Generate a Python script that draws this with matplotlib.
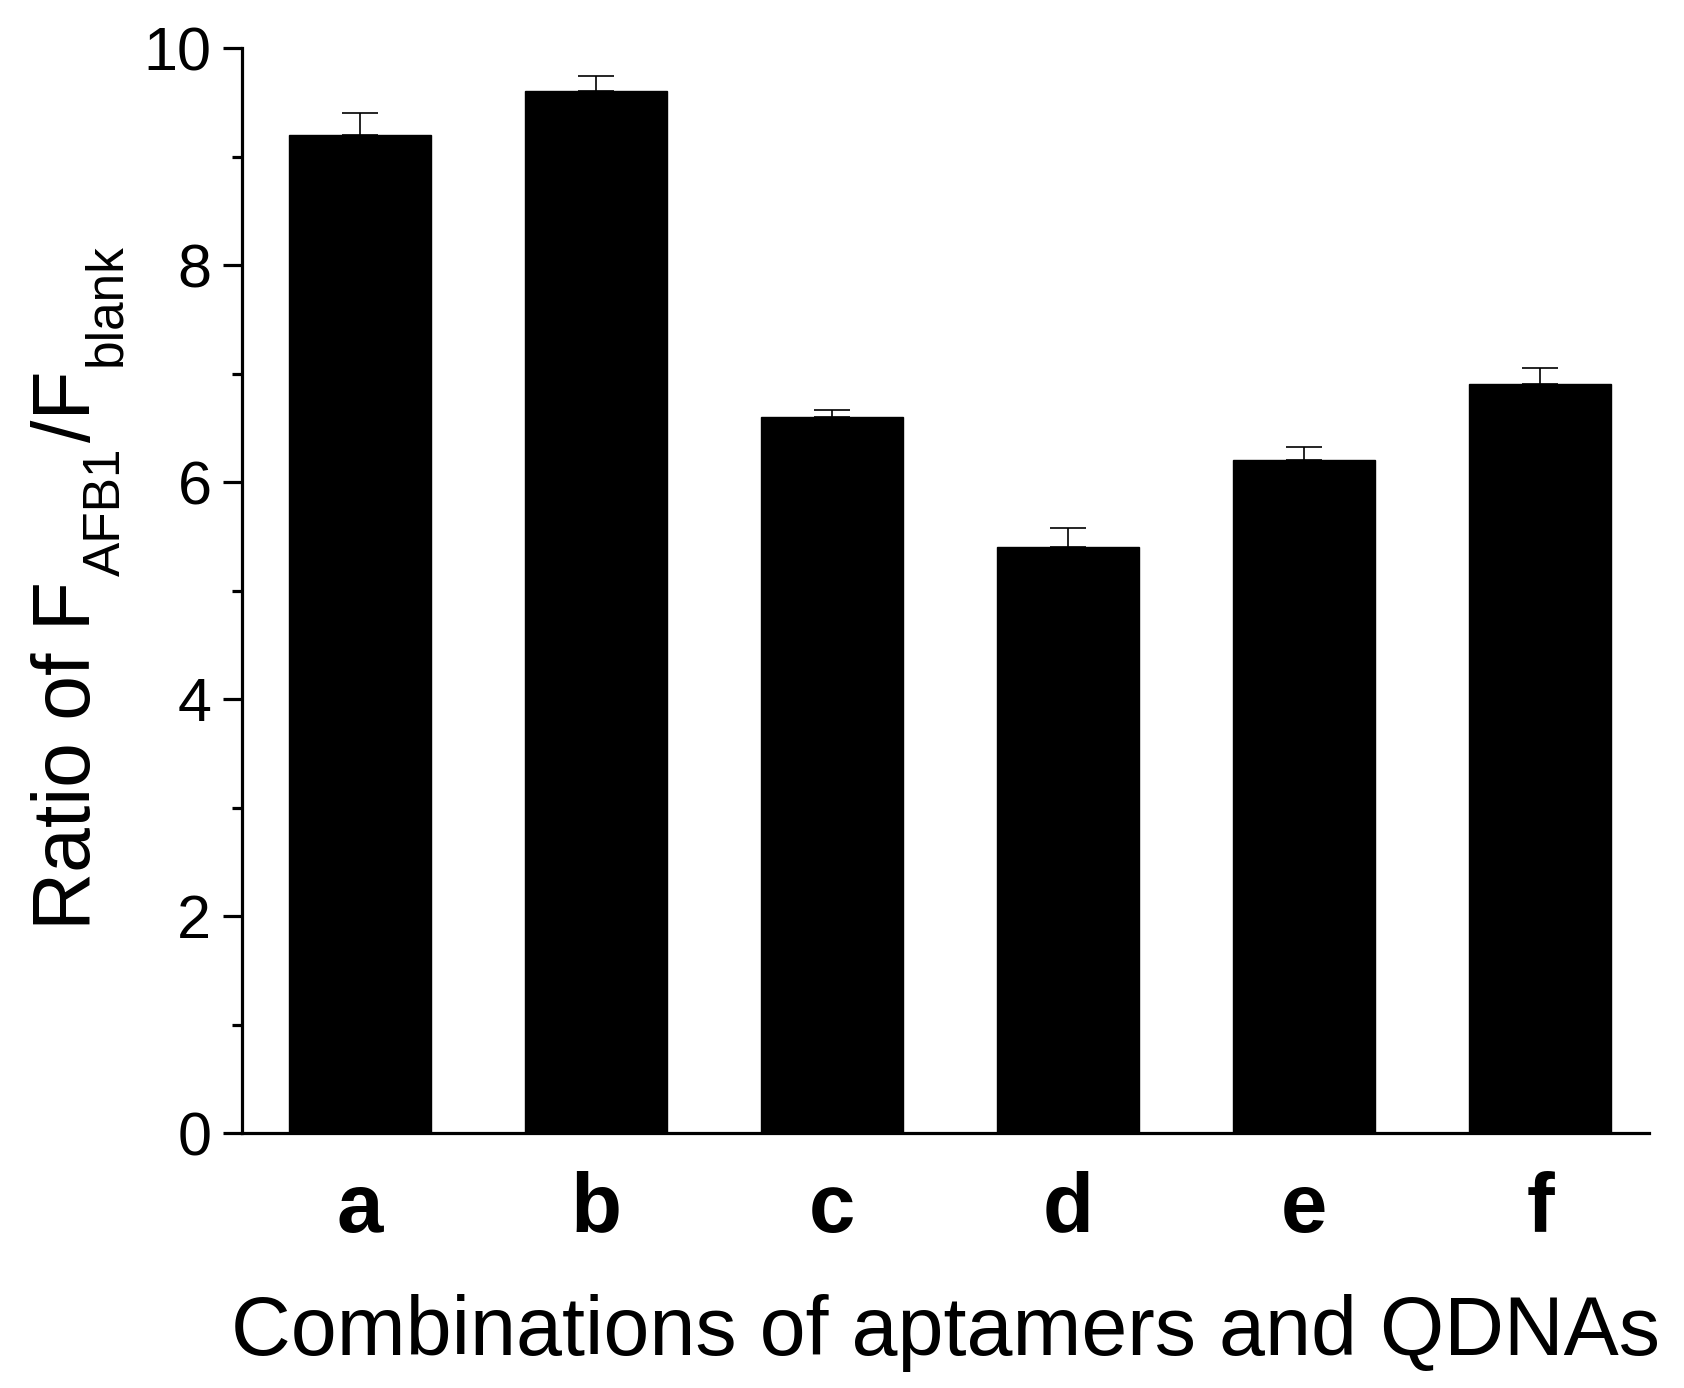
import numpy as np
import matplotlib
matplotlib.use('Agg')
import matplotlib.pyplot as plt
from matplotlib.ticker import MultipleLocator

plt.rcParams['font.family'] = ['Liberation Sans', 'DejaVu Sans']

# data
groups = ['a', 'b', 'c', 'd', 'e', 'f']
ratio = [9.2, 9.6, 6.6, 5.4, 6.2, 6.9]
err = [0.2, 0.14, 0.06, 0.18, 0.12, 0.15]

W, H = 1684, 1388
fig = plt.figure(figsize=(W / 100, H / 100), dpi=100)
ax = fig.add_axes([0.1437, 0.1837, 0.8353, 0.7817])

x = np.arange(len(groups))
ax.bar(x, ratio, width=0.6, color='black', edgecolor='black')
ax.errorbar(x, ratio, yerr=[np.zeros(len(err)), err], fmt='none',
            ecolor='black', elinewidth=1.2, capsize=13, capthick=1.2)

ax.set_xlim(-0.5, 5.46)
ax.set_ylim(0, 10)
ax.yaxis.set_major_locator(MultipleLocator(2))
ax.yaxis.set_minor_locator(MultipleLocator(1))
ax.set_xticks(x)
ax.set_xticklabels(groups, fontsize=60, fontweight='bold')

for s in ['top', 'right']:
    ax.spines[s].set_visible(False)
for s in ['left', 'bottom']:
    ax.spines[s].set_linewidth(2.3)

ax.tick_params(axis='y', which='major', length=14, width=2.3, labelsize=44, pad=8)
ax.tick_params(axis='y', which='minor', length=7, width=2.3)
ax.tick_params(axis='x', length=0, pad=27)

ax.set_xlabel('Combinations of aptamers and QDNAs', fontsize=59.5, labelpad=33)

# y label built piece by piece so the subscripts sit low like the original
renderer = fig.canvas.get_renderer()
parts = [('Ratio of F', 58, 0), ('AFB1', 37, 30), ('/F', 58, 0), ('blank', 37, 30)]
base_x = 90      # baseline of the big letters, px from left
pos = 458        # px from bottom
for txt, size, drop in parts:
    t = fig.text((base_x + drop) / W, pos / H, txt, fontsize=size, rotation=90,
                 rotation_mode='anchor', ha='left', va='baseline')
    pos += t.get_window_extent(renderer).height + 5

fig.savefig('out.png', dpi=100)
